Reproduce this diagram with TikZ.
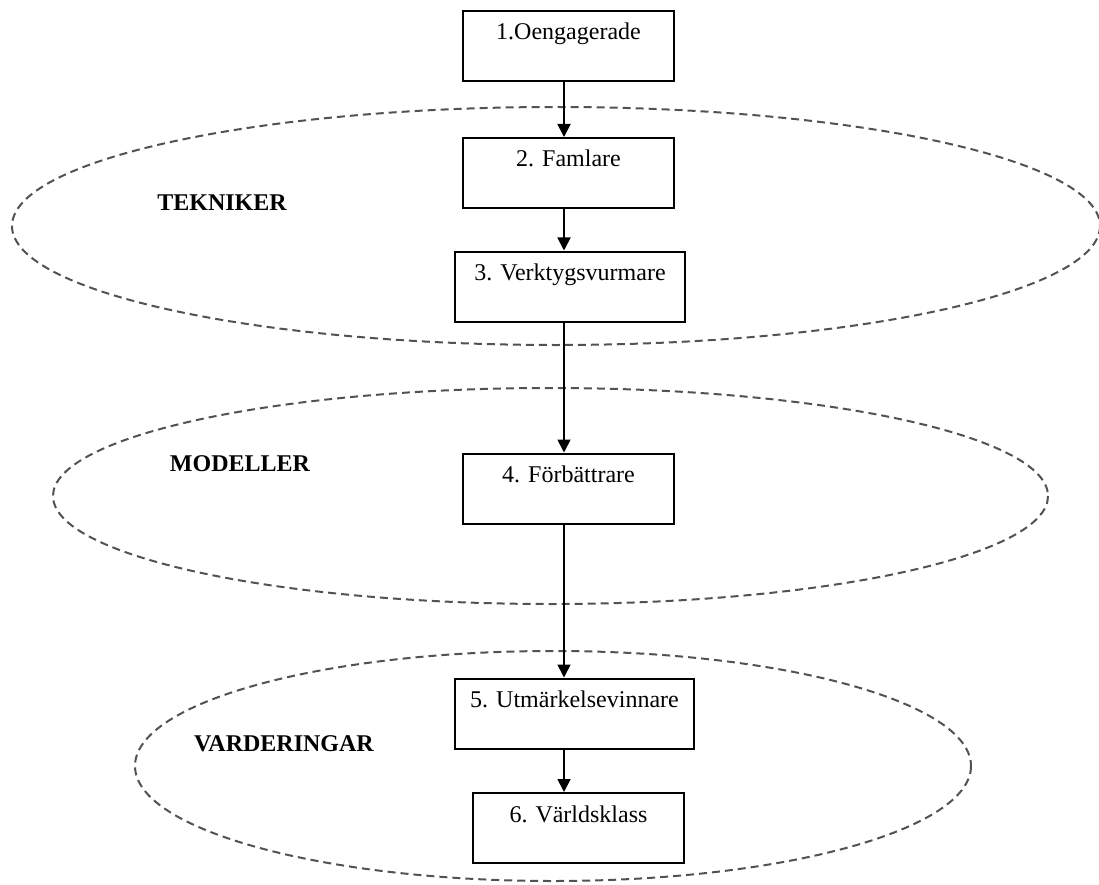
\documentclass[tikz,border=0pt]{standalone}
\usepackage{fontspec}
\setmainfont{Liberation Serif}
\usetikzlibrary{arrows.meta}

\begin{document}
\begin{tikzpicture}[x=1pt,y=-1pt,
    box/.style={draw,line width=2pt,inner sep=0pt,minimum height=70pt,
        text height=29pt,text depth=41pt,font=\fontsize{24}{28}\selectfont},
    zone/.style={draw=black!68,dash pattern=on 8pt off 5pt,line width=2pt},
    tag/.style={font=\fontsize{24}{28}\selectfont\bfseries},
    link/.style={line width=1.8pt,-{Triangle[length=13pt,width=13pt]}}]

    \useasboundingbox (0,0) rectangle (1099,885);

    \draw [zone] (556,226) ellipse [x radius=544,y radius=119];
    \draw [zone] (550.5,496) ellipse [x radius=497.5,y radius=108];
    \draw [zone] (553,766) ellipse [x radius=418,y radius=115];

    \node [tag] (tekniker) at (222,203) {TEKNIKER};
    \node [tag] (modeller) at (240,464) {MODELLER};
    \node [tag] (varderingar) at (284,744) {VARDERINGAR};

    \node [box,minimum width=211pt] (oengagerade) at (568.5,46) {1.Oengagerade};
    \node [box,minimum width=211pt] (famlare) at (568.5,173) {2. Famlare};
    \node [box,minimum width=230pt] (verktyg) at (570,286.5) {3. Verktygsvurmare};
    \node [box,minimum width=211pt] (forbattrare) at (568.5,488.5) {4. Förbättrare};
    \node [box,minimum width=239pt] (utmarkelse) at (574.5,713.5) {5. Utmärkelsevinnare};
    \node [box,minimum width=211pt] (varldsklass) at (578.5,828) {6. Världsklass};

    \coordinate (axis) at (564,0);
    \draw [link] (oengagerade.south -| axis) -- (famlare.north -| axis);
    \draw [link] (famlare.south -| axis) -- (verktyg.north -| axis);
    \draw [link] (verktyg.south -| axis) -- (forbattrare.north -| axis);
    \draw [link] (forbattrare.south -| axis) -- (utmarkelse.north -| axis);
    \draw [link] (utmarkelse.south -| axis) -- (varldsklass.north -| axis);

\end{tikzpicture}
\end{document}
